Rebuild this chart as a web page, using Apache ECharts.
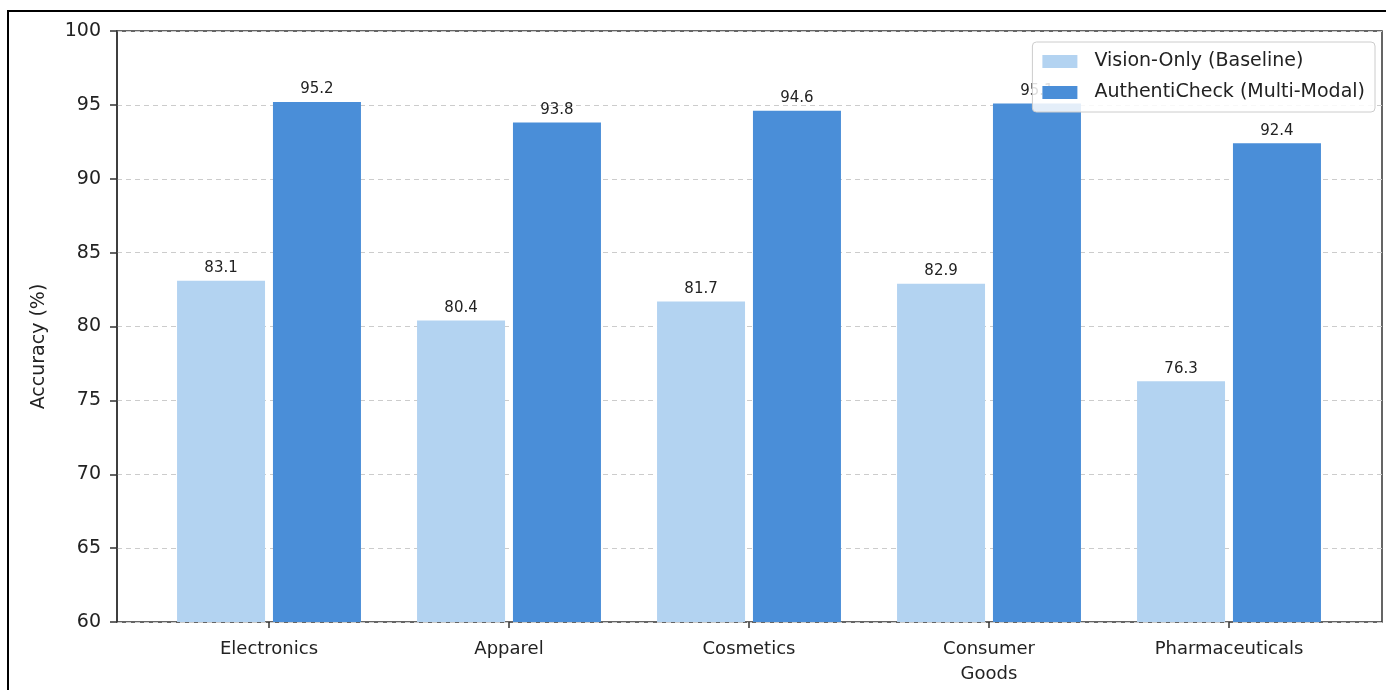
<!DOCTYPE html>
<html>
<head>
<meta charset="utf-8">
<script src="https://cdn.jsdelivr.net/npm/echarts@6/dist/echarts.min.js"></script>
<style>
  html, body { margin: 0; padding: 0; background: #fff; }
  #chart { width: 1386px; height: 690px; }
</style>
</head>
<body>
<div id="chart"></div>
<script>
// data
var categories = ['Electronics', 'Apparel', 'Cosmetics', 'Consumer\nGoods', 'Pharmaceuticals'];
var visionOnly = [83.1, 80.4, 81.7, 82.9, 76.3];
var authentiCheck = [95.2, 93.8, 94.6, 95.1, 92.4];
var seriesNames = ['Vision-Only (Baseline)', 'AuthentiCheck (Multi-Modal)'];

var font = 'DejaVu Sans';
var chart = echarts.init(document.getElementById('chart'));

chart.setOption({
  animation: false,
  textStyle: { fontFamily: font },
  graphic: [{
    type: 'rect',
    shape: { x: 8, y: 11, width: 1400, height: 700 },
    style: { fill: 'none', stroke: '#000', lineWidth: 2 },
    z: 0
  }],
  legend: {
    data: seriesNames,
    orient: 'vertical',
    icon: 'rect',
    right: 11,
    top: 42,
    itemWidth: 35,
    itemHeight: 13,
    itemGap: 12,
    padding: [10, 10, 10, 10],
    backgroundColor: 'rgba(255,255,255,0.85)',
    borderColor: '#ccc',
    borderWidth: 1,
    borderRadius: 4,
    textStyle: { fontFamily: font, fontSize: 19, color: '#222', padding: [0, 0, 0, 12] },
    z: 10
  },
  grid: [
    // frame grid: y axis, grid lines, border
    { left: 117, right: 4, top: 31, bottom: 68, show: true, borderColor: '#333', borderWidth: 1.5, backgroundColor: 'transparent' },
    // bar grid: matches the bar spacing inside the frame
    { left: 149, right: 37, top: 31, bottom: 68 }
  ],
  xAxis: [
    { gridIndex: 0, type: 'value', show: false, min: 0, max: 1 },
    {
      gridIndex: 1,
      type: 'category',
      data: categories,
      axisLine: { show: false },
      axisTick: { show: true, alignWithLabel: true, length: 6, lineStyle: { color: '#333', width: 1.5 } },
      axisLabel: { fontFamily: font, fontSize: 18, color: '#222', margin: 15, lineHeight: 25 }
    }
  ],
  yAxis: [
    {
      gridIndex: 0,
      type: 'value',
      min: 60,
      max: 100,
      interval: 5,
      name: 'Accuracy (%)',
      nameLocation: 'middle',
      nameGap: 68,
      nameTextStyle: { fontFamily: font, fontSize: 19, color: '#222', padding: [0, 40, 0, 0] },
      axisLine: { show: true, lineStyle: { color: '#333', width: 1.5 } },
      axisTick: { show: true, length: 7, lineStyle: { color: '#333', width: 1.5 } },
      axisLabel: { fontFamily: font, fontSize: 19, color: '#222', margin: 16 },
      splitLine: { show: true, lineStyle: { color: '#ccc', type: [5, 4], width: 1 } }
    },
    { gridIndex: 1, type: 'value', min: 60, max: 100, show: false, splitLine: { show: false } }
  ],
  series: [
    {
      name: seriesNames[0],
      type: 'bar',
      xAxisIndex: 1,
      yAxisIndex: 1,
      data: visionOnly,
      barWidth: 88,
      barGap: '9%',
      itemStyle: { color: '#b3d3f1' },
      label: { show: true, position: 'top', distance: 5, formatter: function (p) { return p.value.toFixed(1); }, fontFamily: font, fontSize: 15, color: '#222' }
    },
    {
      name: seriesNames[1],
      type: 'bar',
      xAxisIndex: 1,
      yAxisIndex: 1,
      data: authentiCheck,
      barWidth: 88,
      barGap: '9%',
      itemStyle: { color: '#4a8ed8' },
      label: { show: true, position: 'top', distance: 5, formatter: function (p) { return p.value.toFixed(1); }, fontFamily: font, fontSize: 15, color: '#222' }
    }
  ]
});
</script>
</body>
</html>
